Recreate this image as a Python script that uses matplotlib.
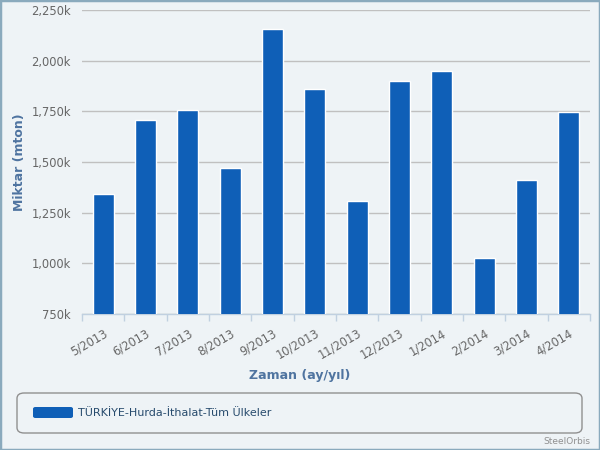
import matplotlib
matplotlib.use("Agg")
import matplotlib.pyplot as plt
from matplotlib.patches import FancyBboxPatch, Rectangle

categories = ["5/2013", "6/2013", "7/2013", "8/2013", "9/2013", "10/2013",
              "11/2013", "12/2013", "1/2014", "2/2014", "3/2014", "4/2014"]
values = [1340, 1705, 1755, 1468, 2155, 1858, 1310, 1898, 1948, 1027, 1413, 1748]
yticks = [750, 1000, 1250, 1500, 1750, 2000, 2250]
ytick_labels = ["750k", "1,000k", "1,250k", "1,500k", "1,750k", "2,000k", "2,250k"]
series_name = "TÜRKİYE-Hurda-İthalat-Tüm Ülkeler"

bg = "#EEF3F6"
bar_color = "#0F5FB7"
label_color = "#4F74A0"

plt.rcParams['font.family'] = ['DejaVu Sans']
fig = plt.figure(figsize=(6, 4.5), dpi=100, facecolor=bg)
W, H = 600, 450
ax = fig.add_axes([82 / W, 1 - 314 / H, (590 - 82) / W, (314 - 10) / H])
ax.set_facecolor(bg)

x = list(range(len(categories)))
ax.bar(x, values, width=0.49, color=bar_color, edgecolor="white", linewidth=1, zorder=3)
ax.set_xlim(-0.5, len(categories) - 0.5)
ax.set_ylim(750, 2250)
ax.set_yticks(yticks)
ax.set_yticklabels(ytick_labels)
ax.yaxis.grid(True, color="#C0C0C0", linewidth=1, zorder=0)
ax.tick_params(axis="y", length=0, pad=8, labelsize=8.3, labelcolor="#666666")

ax.set_xticks(x)
ax.set_xticklabels(categories, rotation=30, ha="right", rotation_mode="anchor",
                   fontsize=8.3, color="#666666")
ax.tick_params(axis="x", which="major", length=0, pad=9)
ax.set_xticks([i - 0.5 for i in range(len(categories) + 1)], minor=True)
ax.tick_params(axis="x", which="minor", length=5, color="#C0D0E0", width=1)

for s in ["top", "right", "left"]:
    ax.spines[s].set_visible(False)
ax.spines["bottom"].set_color("#C0D0E0")
ax.spines["bottom"].set_linewidth(1)

fig.text(20 / W, 1 - 162 / H, "Miktar (mton)", fontsize=9, fontweight="bold",
         color=label_color, ha="center", va="center", rotation=90)
fig.text(300 / W, 1 - 376 / H, "Zaman (ay/yıl)", fontsize=9, fontweight="bold",
         color=label_color, ha="center", va="center")

# legend box
lb = FancyBboxPatch((17 / W, 1 - 433 / H), (582 - 17) / W, (433 - 393) / H,
                    boxstyle="round,pad=0,rounding_size=0.012", transform=fig.transFigure,
                    facecolor=bg, edgecolor="#909090", linewidth=1)
fig.patches.append(lb)
handle = FancyBboxPatch((33 / W, 1 - 418 / H), 40 / W, 11 / H,
                        boxstyle="round,pad=0,rounding_size=0.004", transform=fig.transFigure,
                        facecolor=bar_color, edgecolor="none")
fig.patches.append(handle)
fig.text(78 / W, 1 - 413 / H, series_name, fontsize=8, color="#274B6D", ha="left", va="center")

fig.text(590 / W, 1 - 441 / H, "SteelOrbis", fontsize=6.5, color="#909090", ha="right",
         va="center")

border = Rectangle((0, 0), 1, 1, transform=fig.transFigure, fill=False,
                   edgecolor="#8AAABD", linewidth=2.5)
fig.patches.append(border)

fig.savefig("out.png", dpi=100, facecolor=bg)
